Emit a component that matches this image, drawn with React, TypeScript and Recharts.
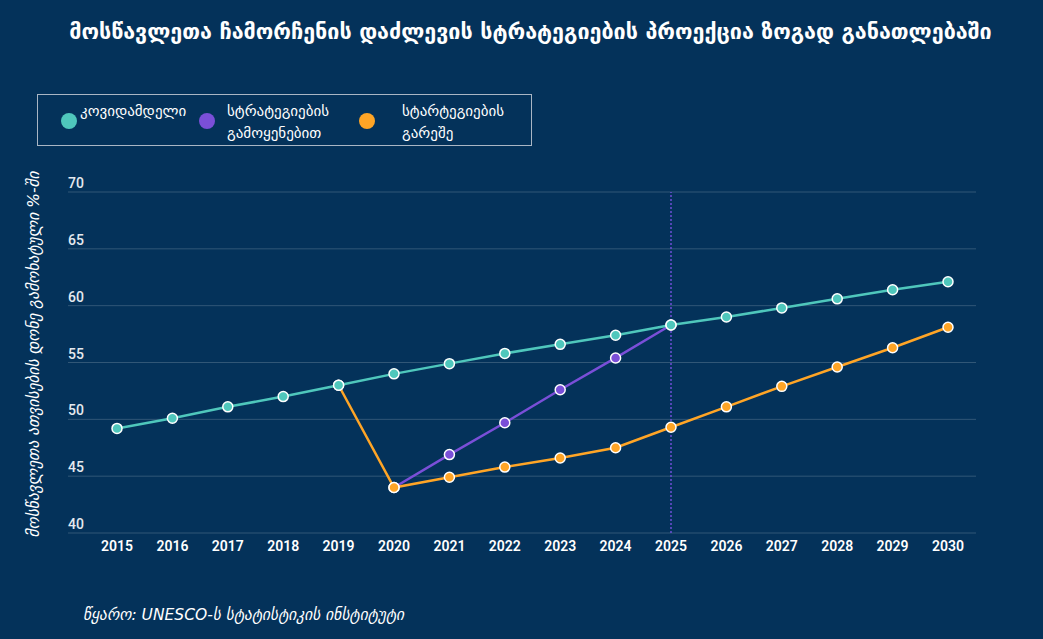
import { LineChart, Line, XAxis, YAxis, CartesianGrid, ReferenceLine } from 'recharts';

const years = ['2015', '2016', '2017', '2018', '2019', '2020', '2021', '2022', '2023', '2024', '2025', '2026', '2027', '2028', '2029', '2030'];
const preCovid = [49.2, 50.1, 51.1, 52.0, 53.0, 54.0, 54.9, 55.8, 56.6, 57.4, 58.3, 59.0, 59.8, 60.6, 61.4, 62.1];
const withStrategies = [null, null, null, null, null, 44.0, 46.9, 49.7, 52.6, 55.4, 58.3, null, null, null, null, null];
const withoutStrategies = [null, null, null, null, 53.0, 44.0, 44.9, 45.8, 46.6, 47.5, 49.3, 51.1, 52.9, 54.6, 56.3, 58.1];
const yTicks = [40, 45, 50, 55, 60, 65, 70];

const legendItems = [
  { label: ['კოვიდამდელი'], color: '#4fc7bc' },
  { label: ['სტრატეგიების', 'გამოყენებით'], color: '#7a4fd8' },
  { label: ['სტარტეგიების', 'გარეშე'], color: '#ffa526' },
];

const data = years.map((year, i) => ({
  year,
  pre: preCovid[i],
  with: withStrategies[i],
  without: withoutStrategies[i],
}));

const BG = '#04325a';
const FONT = '"DejaVu Sans", sans-serif';

function YTick({ y, payload }: any) {
  return (
    <g>
      <line x1={68} x2={89} y1={y} y2={y} stroke="rgba(255,255,255,0.18)" strokeWidth={1} />
      <text x={68} y={y - 4} fill="#e4e9ef" fontSize={14} fontFamily="Roboto, sans-serif" fontWeight={500}>
        {payload.value}
      </text>
    </g>
  );
}

function dotFor(color: string) {
  return { r: 5, fill: color, stroke: '#ffffff', strokeWidth: 1.5 };
}

export default function App() {
  return (
    <div style={{ position: 'absolute', left: 0, top: 0, width: 1043, height: 639, background: BG, overflow: 'hidden', fontFamily: FONT }}>
      <div style={{ position: 'absolute', left: 9, top: 19, width: 1043, textAlign: 'center', color: '#fff', fontSize: 21.5, fontWeight: 700, whiteSpace: 'nowrap' }}>
        მოსწავლეთა ჩამორჩენის დაძლევის სტრატეგიების პროექცია ზოგად განათლებაში
      </div>

      {/* legend */}
      <div style={{ position: 'absolute', left: 37, top: 94, width: 493, height: 50, border: '1px solid #aab6c4' }}>
        {legendItems.map((item, i) => {
          const dotX = [23, 161, 321][i];
          const textX = [42, 189, 364][i];
          return (
            <div key={i}>
              <div style={{ position: 'absolute', left: dotX, top: 18, width: 16, height: 16, borderRadius: 8, background: item.color }} />
              <div style={{ position: 'absolute', left: textX, top: 5, color: '#fff', fontSize: 15, lineHeight: '22px', whiteSpace: 'nowrap' }}>
                {item.label.map((l, j) => (
                  <div key={j}>{l}</div>
                ))}
              </div>
            </div>
          );
        })}
      </div>

      <LineChart
        width={1043}
        height={639}
        data={data}
        margin={{ top: 192, right: 67, bottom: 76, left: 68 }}
        style={{ position: 'absolute', left: 0, top: 0 }}
      >
        <CartesianGrid horizontal vertical={false} stroke="rgba(255,255,255,0.18)" />
        <XAxis
          dataKey="year"
          tickLine={false}
          axisLine={false}
          padding={{ left: 28, right: 28 }}
          tick={{ fill: '#ffffff', fontSize: 14, fontWeight: 600, fontFamily: 'Roboto, sans-serif' }}
          interval={0}
        />
        <YAxis
          domain={[40, 70]}
          ticks={yTicks}
          width={21}
          tickLine={false}
          axisLine={false}
          tick={<YTick />}
          label={{
            value: 'მოსწავლეთა  ათვისების დონე გამოხატული %-ში',
            angle: -90,
            position: 'insideLeft',
            offset: -35,
            dy: -8,
            style: { fill: '#ffffff', fontSize: 15.5, fontStyle: 'italic', fontFamily: FONT, textAnchor: 'middle' },
          }}
        />
        <ReferenceLine x="2025" stroke="#6d4fd6" strokeWidth={1.5} strokeDasharray="2 2" />
        <Line
          dataKey="with"
          stroke="#7a4fd8"
          strokeWidth={2.5}
          dot={dotFor('#7a4fd8')}
          activeDot={false}
          connectNulls={false}
          isAnimationActive={false}
        />
        <Line
          dataKey="without"
          stroke="#ffa526"
          strokeWidth={2.5}
          dot={dotFor('#ffa526')}
          activeDot={false}
          isAnimationActive={false}
        />
        <Line
          dataKey="pre"
          stroke="#4fc7bc"
          strokeWidth={2.5}
          dot={dotFor('#4fc7bc')}
          activeDot={false}
          isAnimationActive={false}
        />
      </LineChart>

      <div style={{ position: 'absolute', left: 83, top: 606, color: '#fff', fontSize: 15.5, fontStyle: 'italic' }}>
        წყარო: UNESCO-ს სტატისტიკის ინსტიტუტი
      </div>
    </div>
  );
}
